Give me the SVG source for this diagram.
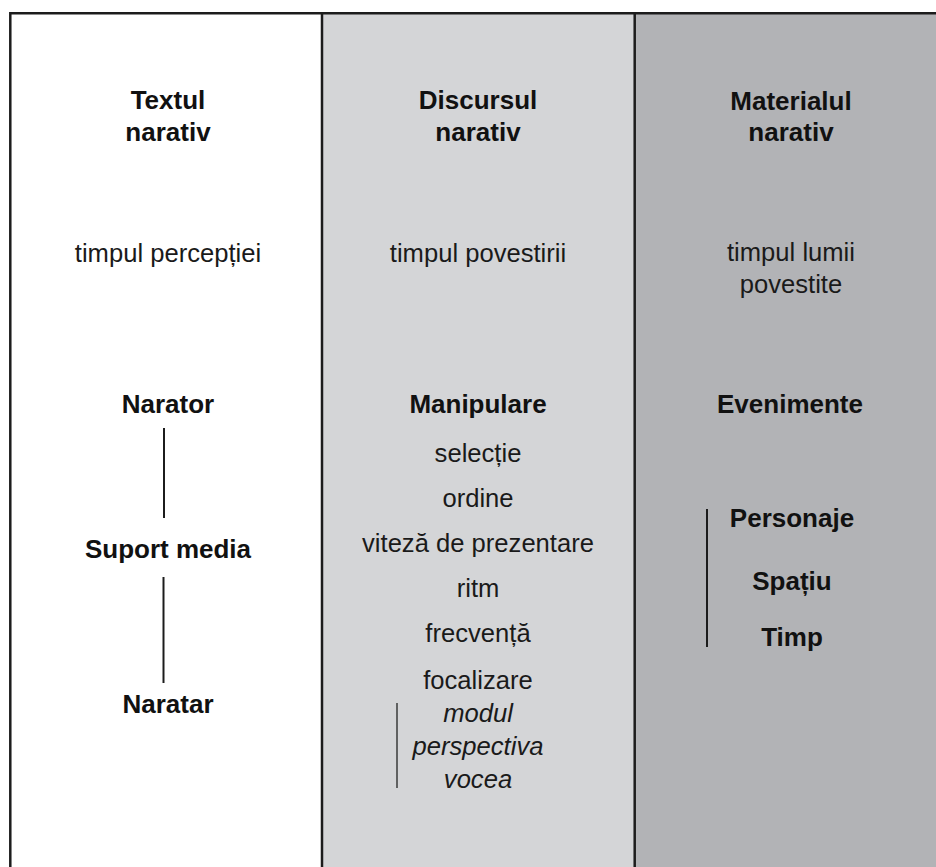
<svg xmlns="http://www.w3.org/2000/svg" width="936" height="867" viewBox="0 0 936 867">
  <style>
    text { font-family: "Liberation Sans", Arial, Helvetica, sans-serif; fill: #111; text-anchor: middle; }
    .h { font-weight: bold; font-size: 26px; }
    .r { font-size: 25.6px; fill: #1a1a1a; }
    .i { font-size: 25.6px; font-style: italic; fill: #1a1a1a; }
    .frame { stroke: #1c1c1c; stroke-width: 2.5; fill: none; }
    .link { stroke: #1c1c1c; stroke-width: 2; fill: none; }
    .thin { stroke: #3a3a3a; stroke-width: 1.5; fill: none; }
  </style>

  <!-- column backgrounds -->
  <rect x="0" y="0" width="936" height="867" fill="#ffffff"/>
  <rect x="322" y="13" width="313" height="854" fill="#d4d5d7"/>
  <rect x="635" y="13" width="301" height="854" fill="#b2b3b6"/>

  <!-- frame and column dividers -->
  <g id="frame">
    <line class="frame" x1="10" y1="13.3" x2="936" y2="13.3"/>
    <line class="frame" x1="10.3" y1="12" x2="10.3" y2="867"/>
    <line class="frame" x1="322" y1="12" x2="322" y2="867"/>
    <line class="frame" x1="634.7" y1="12" x2="634.7" y2="867"/>
  </g>

  <!-- column: Textul narativ -->
  <g id="col-text-header">
    <text class="h" x="168" y="109">Textul</text>
    <text class="h" x="168" y="141">narativ</text>
  </g>
  <g id="col-text-time"><text class="r" x="168" y="262">timpul percepției</text></g>
  <g id="narator"><text class="h" x="168" y="413">Narator</text></g>
  <g id="suport-media"><text class="h" x="168" y="558">Suport media</text></g>
  <g id="naratar"><text class="h" x="168" y="713">Naratar</text></g>

  <!-- column: Discursul narativ -->
  <g id="col-discourse-header">
    <text class="h" x="478" y="109">Discursul</text>
    <text class="h" x="478" y="141">narativ</text>
  </g>
  <g id="col-discourse-time"><text class="r" x="478" y="262">timpul povestirii</text></g>
  <g id="manipulare">
    <text class="h" x="478" y="413">Manipulare</text>
    <text class="r" x="478" y="462">selecție</text>
    <text class="r" x="478" y="507">ordine</text>
    <text class="r" x="478" y="552">viteză de prezentare</text>
    <text class="r" x="478" y="597">ritm</text>
    <text class="r" x="478" y="642">frecvență</text>
    <text class="r" x="478" y="689">focalizare</text>
  </g>
  <g id="focalizare-aspects">
    <text class="i" x="478" y="722">modul</text>
    <text class="i" x="478" y="755">perspectiva</text>
    <text class="i" x="478" y="788">vocea</text>
  </g>

  <!-- column: Materialul narativ -->
  <g id="col-material-header">
    <text class="h" x="791" y="110">Materialul</text>
    <text class="h" x="791" y="141">narativ</text>
  </g>
  <g id="col-material-time">
    <text class="r" x="791" y="261">timpul lumii</text>
    <text class="r" x="791" y="293">povestite</text>
  </g>
  <g id="evenimente"><text class="h" x="790" y="413">Evenimente</text></g>
  <g id="existents">
    <text class="h" x="792" y="527">Personaje</text>
    <text class="h" x="792" y="590">Spațiu</text>
    <text class="h" x="792" y="646">Timp</text>
  </g>

  <!-- connectors -->
  <g id="connectors">
    <line class="link" x1="164" y1="428" x2="164" y2="518"/>
    <line class="link" x1="163.5" y1="577" x2="163.5" y2="683"/>
    <line class="thin" x1="397" y1="703" x2="397" y2="788"/>
    <line class="link" x1="707" y1="509" x2="707" y2="647"/>
  </g>
</svg>
